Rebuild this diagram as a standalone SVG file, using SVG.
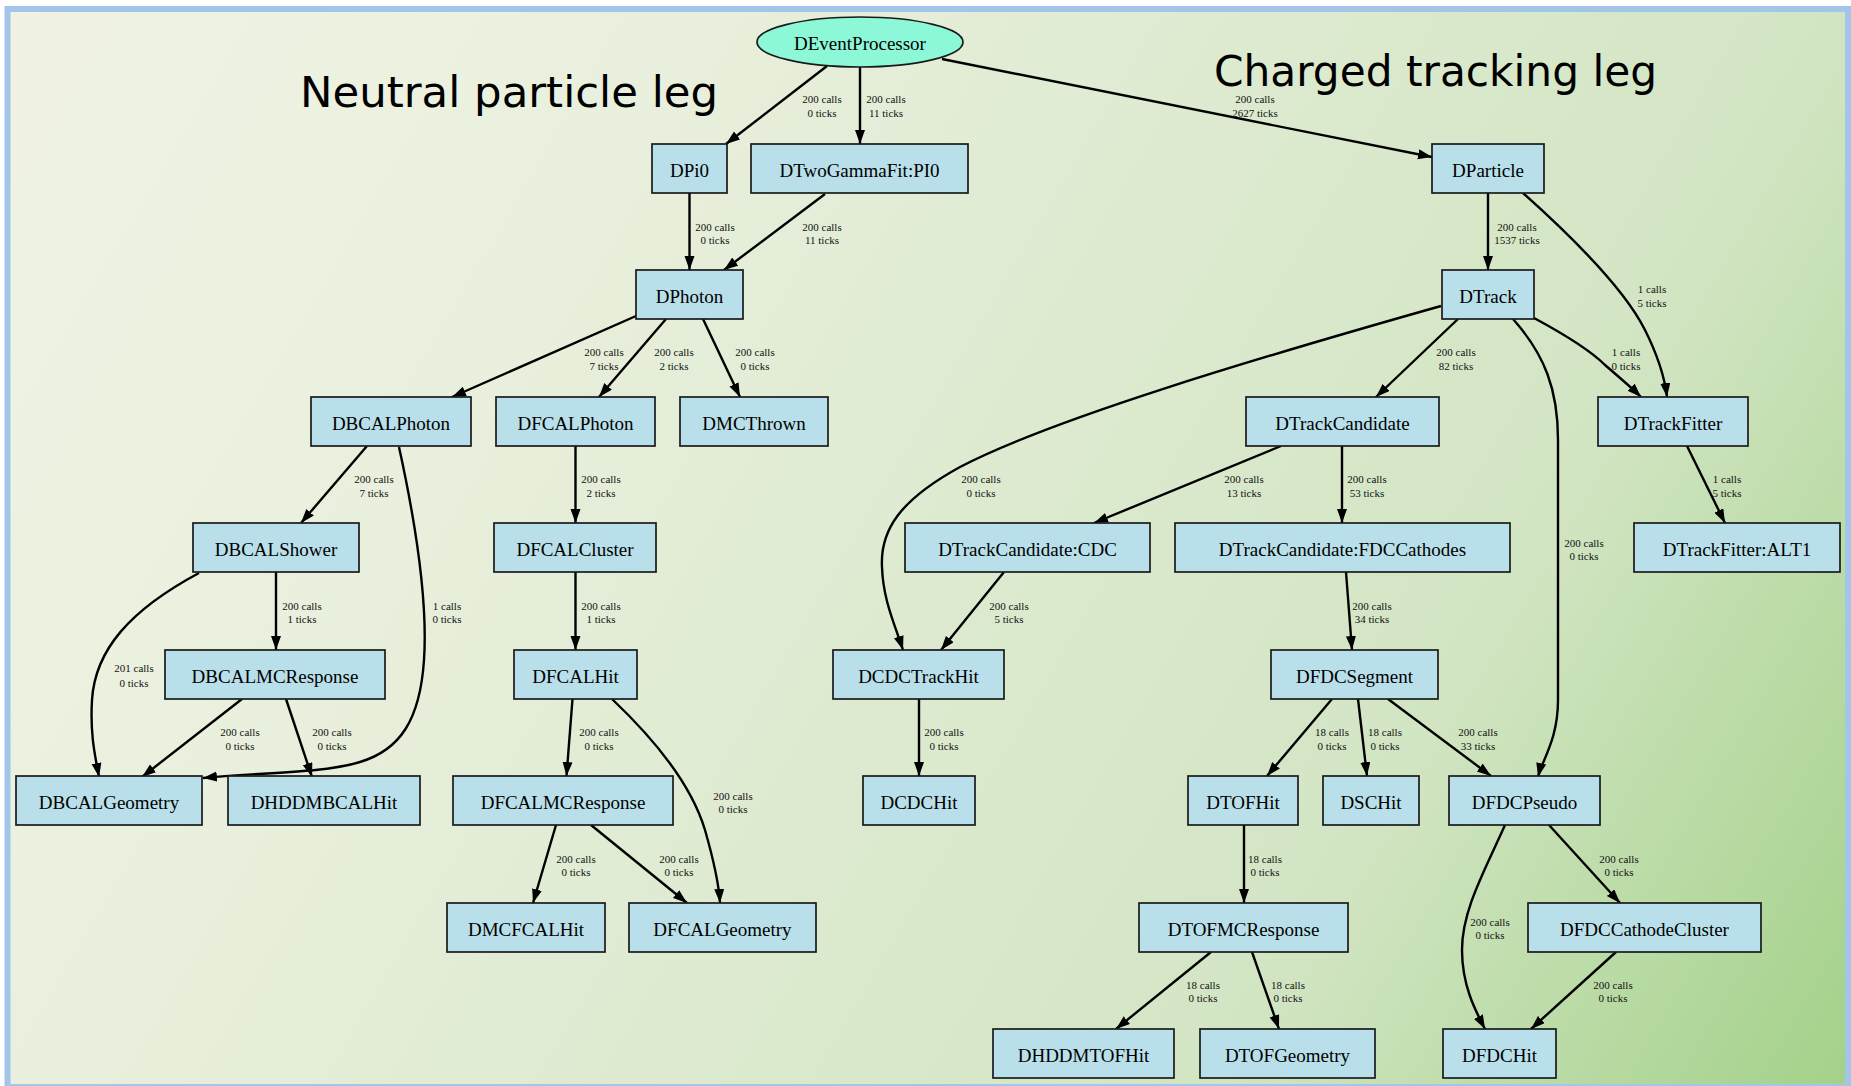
<svg xmlns="http://www.w3.org/2000/svg" width="1851" height="1086" viewBox="0 0 1851 1086">
<defs>
<linearGradient id="bg" gradientUnits="userSpaceOnUse" x1="0" y1="0" x2="1851" y2="1086">
<stop offset="0" stop-color="#f0f3e4"/>
<stop offset="0.256" stop-color="#eaf0de"/>
<stop offset="0.744" stop-color="#d2e5c3"/>
<stop offset="1" stop-color="#a3d189"/>
</linearGradient>
<marker id="ah" markerUnits="userSpaceOnUse" markerWidth="15" markerHeight="11" refX="14" refY="5" orient="auto" viewBox="0 0 15 11">
<path d="M0,0 L14,5 L0,10 z" fill="#000"/>
</marker>
<style>
.n rect{fill:#b9e0ea;stroke:#1a1a1a;stroke-width:1.7}
.n ellipse{fill:#8df8d8;stroke:#1a1a1a;stroke-width:1.7}
.n text{font-family:"Liberation Serif","Times New Roman",serif;font-size:19px;text-anchor:middle;fill:#000}
#edges path{fill:none;stroke:#000;stroke-width:2.4;marker-end:url(#ah)}
#edges text{font-family:"Liberation Serif","Times New Roman",serif;font-size:11px;text-anchor:middle;fill:#111}
.title{font-family:"DejaVu Sans","Noto Sans",sans-serif;font-size:42px;fill:#000}
</style>
</defs>
<rect x="0" y="0" width="1851" height="1086" fill="#ffffff"/>
<rect x="7.5" y="9" width="1840.5" height="1078" fill="url(#bg)" stroke="#a3c5e9" stroke-width="6"/>

<text class="title" x="300" y="107" textLength="418" lengthAdjust="spacingAndGlyphs">Neutral particle leg</text>
<text class="title" x="1214" y="86" textLength="443" lengthAdjust="spacingAndGlyphs">Charged tracking leg</text>

<g id="edges">
<path d="M827,66 L726,144"/>
<path d="M860,67 L860,144"/>
<path d="M942,59 L1432,157"/>
<path d="M689.5,193 L689.5,270"/>
<path d="M825,194 L724,270"/>
<path d="M636,316 L452,397"/>
<path d="M666,319 L599,397"/>
<path d="M703,319 L740,397"/>
<path d="M367,446 L301,523"/>
<path d="M399,447 C415,520 428,600 424,660 C420,720 400,750 360,762 C320,774 260,772 203,778"/>
<path d="M276,572 L276,650"/>
<path d="M199,573 C130,610 95,650 92,700 C90,735 95,755 99,777"/>
<path d="M242,699 L142,777"/>
<path d="M286,699 L312,777"/>
<path d="M575.5,446 L575.5,523"/>
<path d="M575.5,572 L575.5,650"/>
<path d="M572.5,699 L566.5,776"/>
<path d="M612,699 C650,735 690,780 705,830 C715,865 719,885 720,903"/>
<path d="M556,825 L533,903"/>
<path d="M591,825 L687,903"/>
<path d="M1488,193 L1488,270"/>
<path d="M1523,193 C1570,235 1625,290 1645,330 C1660,360 1665,380 1667,397"/>
<path d="M1458,319 L1376,397"/>
<path d="M1534,318 C1560,332 1590,350 1605,365 C1620,378 1632,388 1641,397"/>
<path d="M1441,306 C1250,360 1050,420 960,467 C900,500 880,530 882,567 C883,600 895,625 903,650"/>
<path d="M1513,319 C1545,355 1558,390 1558,440 L1558,700 C1558,740 1542,760 1538,777"/>
<path d="M1687,446 L1725,523"/>
<path d="M1281,446 L1094,523"/>
<path d="M1342,446 L1342,523"/>
<path d="M1004,572 L941,650"/>
<path d="M1346,572 L1352,650"/>
<path d="M919,699 L919,776"/>
<path d="M1332,699 L1267,776"/>
<path d="M1358,699 L1367,776"/>
<path d="M1388,699 L1491,776"/>
<path d="M1244,825 L1244,903"/>
<path d="M1549,825 L1620,903"/>
<path d="M1505,825 C1485,870 1462,910 1462,950 C1462,985 1475,1010 1485,1029"/>
<path d="M1211,952 L1116,1029"/>
<path d="M1252,952 L1279,1029"/>
<path d="M1616,952 L1531,1029"/>

<text x="822" y="103">200 calls</text><text x="822" y="116.5">0 ticks</text>
<text x="886" y="103">200 calls</text><text x="886" y="116.5">11 ticks</text>
<text x="1255" y="103">200 calls</text><text x="1255" y="116.5">2627 ticks</text>
<text x="715" y="231">200 calls</text><text x="715" y="244">0 ticks</text>
<text x="822" y="231">200 calls</text><text x="822" y="244">11 ticks</text>
<text x="604" y="356">200 calls</text><text x="604" y="370">7 ticks</text>
<text x="674" y="356">200 calls</text><text x="674" y="370">2 ticks</text>
<text x="755" y="356">200 calls</text><text x="755" y="370">0 ticks</text>
<text x="374" y="483">200 calls</text><text x="374" y="497">7 ticks</text>
<text x="447" y="610">1 calls</text><text x="447" y="623">0 ticks</text>
<text x="302" y="610">200 calls</text><text x="302" y="623">1 ticks</text>
<text x="134" y="672">201 calls</text><text x="134" y="687">0 ticks</text>
<text x="240" y="736">200 calls</text><text x="240" y="750">0 ticks</text>
<text x="332" y="736">200 calls</text><text x="332" y="750">0 ticks</text>
<text x="601" y="483">200 calls</text><text x="601" y="497">2 ticks</text>
<text x="601" y="610">200 calls</text><text x="601" y="623">1 ticks</text>
<text x="599" y="736">200 calls</text><text x="599" y="750">0 ticks</text>
<text x="733" y="800">200 calls</text><text x="733" y="813">0 ticks</text>
<text x="576" y="863">200 calls</text><text x="576" y="876">0 ticks</text>
<text x="679" y="863">200 calls</text><text x="679" y="876">0 ticks</text>
<text x="1517" y="231">200 calls</text><text x="1517" y="244">1537 ticks</text>
<text x="1652" y="293">1 calls</text><text x="1652" y="307">5 ticks</text>
<text x="1456" y="356">200 calls</text><text x="1456" y="370">82 ticks</text>
<text x="1626" y="356">1 calls</text><text x="1626" y="370">0 ticks</text>
<text x="981" y="483">200 calls</text><text x="981" y="497">0 ticks</text>
<text x="1584" y="547">200 calls</text><text x="1584" y="560">0 ticks</text>
<text x="1727" y="483">1 calls</text><text x="1727" y="497">5 ticks</text>
<text x="1244" y="483">200 calls</text><text x="1244" y="497">13 ticks</text>
<text x="1367" y="483">200 calls</text><text x="1367" y="497">53 ticks</text>
<text x="1009" y="610">200 calls</text><text x="1009" y="623">5 ticks</text>
<text x="1372" y="610">200 calls</text><text x="1372" y="623">34 ticks</text>
<text x="944" y="736">200 calls</text><text x="944" y="750">0 ticks</text>
<text x="1332" y="736">18 calls</text><text x="1332" y="750">0 ticks</text>
<text x="1385" y="736">18 calls</text><text x="1385" y="750">0 ticks</text>
<text x="1478" y="736">200 calls</text><text x="1478" y="750">33 ticks</text>
<text x="1265" y="863">18 calls</text><text x="1265" y="876">0 ticks</text>
<text x="1619" y="863">200 calls</text><text x="1619" y="876">0 ticks</text>
<text x="1490" y="926">200 calls</text><text x="1490" y="939">0 ticks</text>
<text x="1203" y="989">18 calls</text><text x="1203" y="1002">0 ticks</text>
<text x="1288" y="989">18 calls</text><text x="1288" y="1002">0 ticks</text>
<text x="1613" y="989">200 calls</text><text x="1613" y="1002">0 ticks</text>
</g>

<g id="DEventProcessor" class="n"><ellipse cx="860" cy="42" rx="103" ry="25"/><text x="860" y="50">DEventProcessor</text></g>
<g id="DPi0" class="n"><rect x="652" y="144" width="75" height="49"/><text x="689.5" y="176.5">DPi0</text></g>
<g id="DTwoGammaFit_PI0" class="n"><rect x="751" y="144" width="217" height="49"/><text x="859.5" y="176.5">DTwoGammaFit:PI0</text></g>
<g id="DParticle" class="n"><rect x="1432" y="144" width="112" height="49"/><text x="1488" y="176.5">DParticle</text></g>
<g id="DPhoton" class="n"><rect x="636" y="270" width="107" height="49"/><text x="689.5" y="302.5">DPhoton</text></g>
<g id="DTrack" class="n"><rect x="1442" y="270" width="92" height="49"/><text x="1488" y="302.5">DTrack</text></g>
<g id="DBCALPhoton" class="n"><rect x="311" y="397" width="160" height="49"/><text x="391" y="429.5">DBCALPhoton</text></g>
<g id="DFCALPhoton" class="n"><rect x="496" y="397" width="159" height="49"/><text x="575.5" y="429.5">DFCALPhoton</text></g>
<g id="DMCThrown" class="n"><rect x="680" y="397" width="148" height="49"/><text x="754" y="429.5">DMCThrown</text></g>
<g id="DTrackCandidate" class="n"><rect x="1246" y="397" width="193" height="49"/><text x="1342.5" y="429.5">DTrackCandidate</text></g>
<g id="DTrackFitter" class="n"><rect x="1598" y="397" width="150" height="49"/><text x="1673" y="429.5">DTrackFitter</text></g>
<g id="DBCALShower" class="n"><rect x="193" y="523" width="166" height="49"/><text x="276" y="555.5">DBCALShower</text></g>
<g id="DFCALCluster" class="n"><rect x="494" y="523" width="162" height="49"/><text x="575" y="555.5">DFCALCluster</text></g>
<g id="DTrackCandidate_CDC" class="n"><rect x="905" y="523" width="245" height="49"/><text x="1027.5" y="555.5">DTrackCandidate:CDC</text></g>
<g id="DTrackCandidate_FDCCathodes" class="n"><rect x="1175" y="523" width="335" height="49"/><text x="1342.5" y="555.5">DTrackCandidate:FDCCathodes</text></g>
<g id="DTrackFitter_ALT1" class="n"><rect x="1634" y="523" width="206" height="49"/><text x="1737" y="555.5">DTrackFitter:ALT1</text></g>
<g id="DBCALMCResponse" class="n"><rect x="165" y="650" width="220" height="49"/><text x="275" y="682.5">DBCALMCResponse</text></g>
<g id="DFCALHit" class="n"><rect x="514" y="650" width="123" height="49"/><text x="575.5" y="682.5">DFCALHit</text></g>
<g id="DCDCTrackHit" class="n"><rect x="833" y="650" width="171" height="49"/><text x="918.5" y="682.5">DCDCTrackHit</text></g>
<g id="DFDCSegment" class="n"><rect x="1271" y="650" width="167" height="49"/><text x="1354.5" y="682.5">DFDCSegment</text></g>
<g id="DBCALGeometry" class="n"><rect x="16" y="776" width="186" height="49"/><text x="109" y="808.5">DBCALGeometry</text></g>
<g id="DHDDMBCALHit" class="n"><rect x="228" y="776" width="192" height="49"/><text x="324" y="808.5">DHDDMBCALHit</text></g>
<g id="DFCALMCResponse" class="n"><rect x="453" y="776" width="220" height="49"/><text x="563" y="808.5">DFCALMCResponse</text></g>
<g id="DCDCHit" class="n"><rect x="863" y="776" width="112" height="49"/><text x="919" y="808.5">DCDCHit</text></g>
<g id="DTOFHit" class="n"><rect x="1188" y="776" width="110" height="49"/><text x="1243" y="808.5">DTOFHit</text></g>
<g id="DSCHit" class="n"><rect x="1323" y="776" width="96" height="49"/><text x="1371" y="808.5">DSCHit</text></g>
<g id="DFDCPseudo" class="n"><rect x="1449" y="776" width="151" height="49"/><text x="1524.5" y="808.5">DFDCPseudo</text></g>
<g id="DMCFCALHit" class="n"><rect x="447" y="903" width="158" height="49"/><text x="526" y="935.5">DMCFCALHit</text></g>
<g id="DFCALGeometry" class="n"><rect x="629" y="903" width="187" height="49"/><text x="722.5" y="935.5">DFCALGeometry</text></g>
<g id="DTOFMCResponse" class="n"><rect x="1139" y="903" width="209" height="49"/><text x="1243.5" y="935.5">DTOFMCResponse</text></g>
<g id="DFDCCathodeCluster" class="n"><rect x="1528" y="903" width="233" height="49"/><text x="1644.5" y="935.5">DFDCCathodeCluster</text></g>
<g id="DHDDMTOFHit" class="n"><rect x="993" y="1029" width="181" height="49"/><text x="1083.5" y="1061.5">DHDDMTOFHit</text></g>
<g id="DTOFGeometry" class="n"><rect x="1200" y="1029" width="175" height="49"/><text x="1287.5" y="1061.5">DTOFGeometry</text></g>
<g id="DFDCHit" class="n"><rect x="1443" y="1029" width="113" height="49"/><text x="1499.5" y="1061.5">DFDCHit</text></g>
</svg>
